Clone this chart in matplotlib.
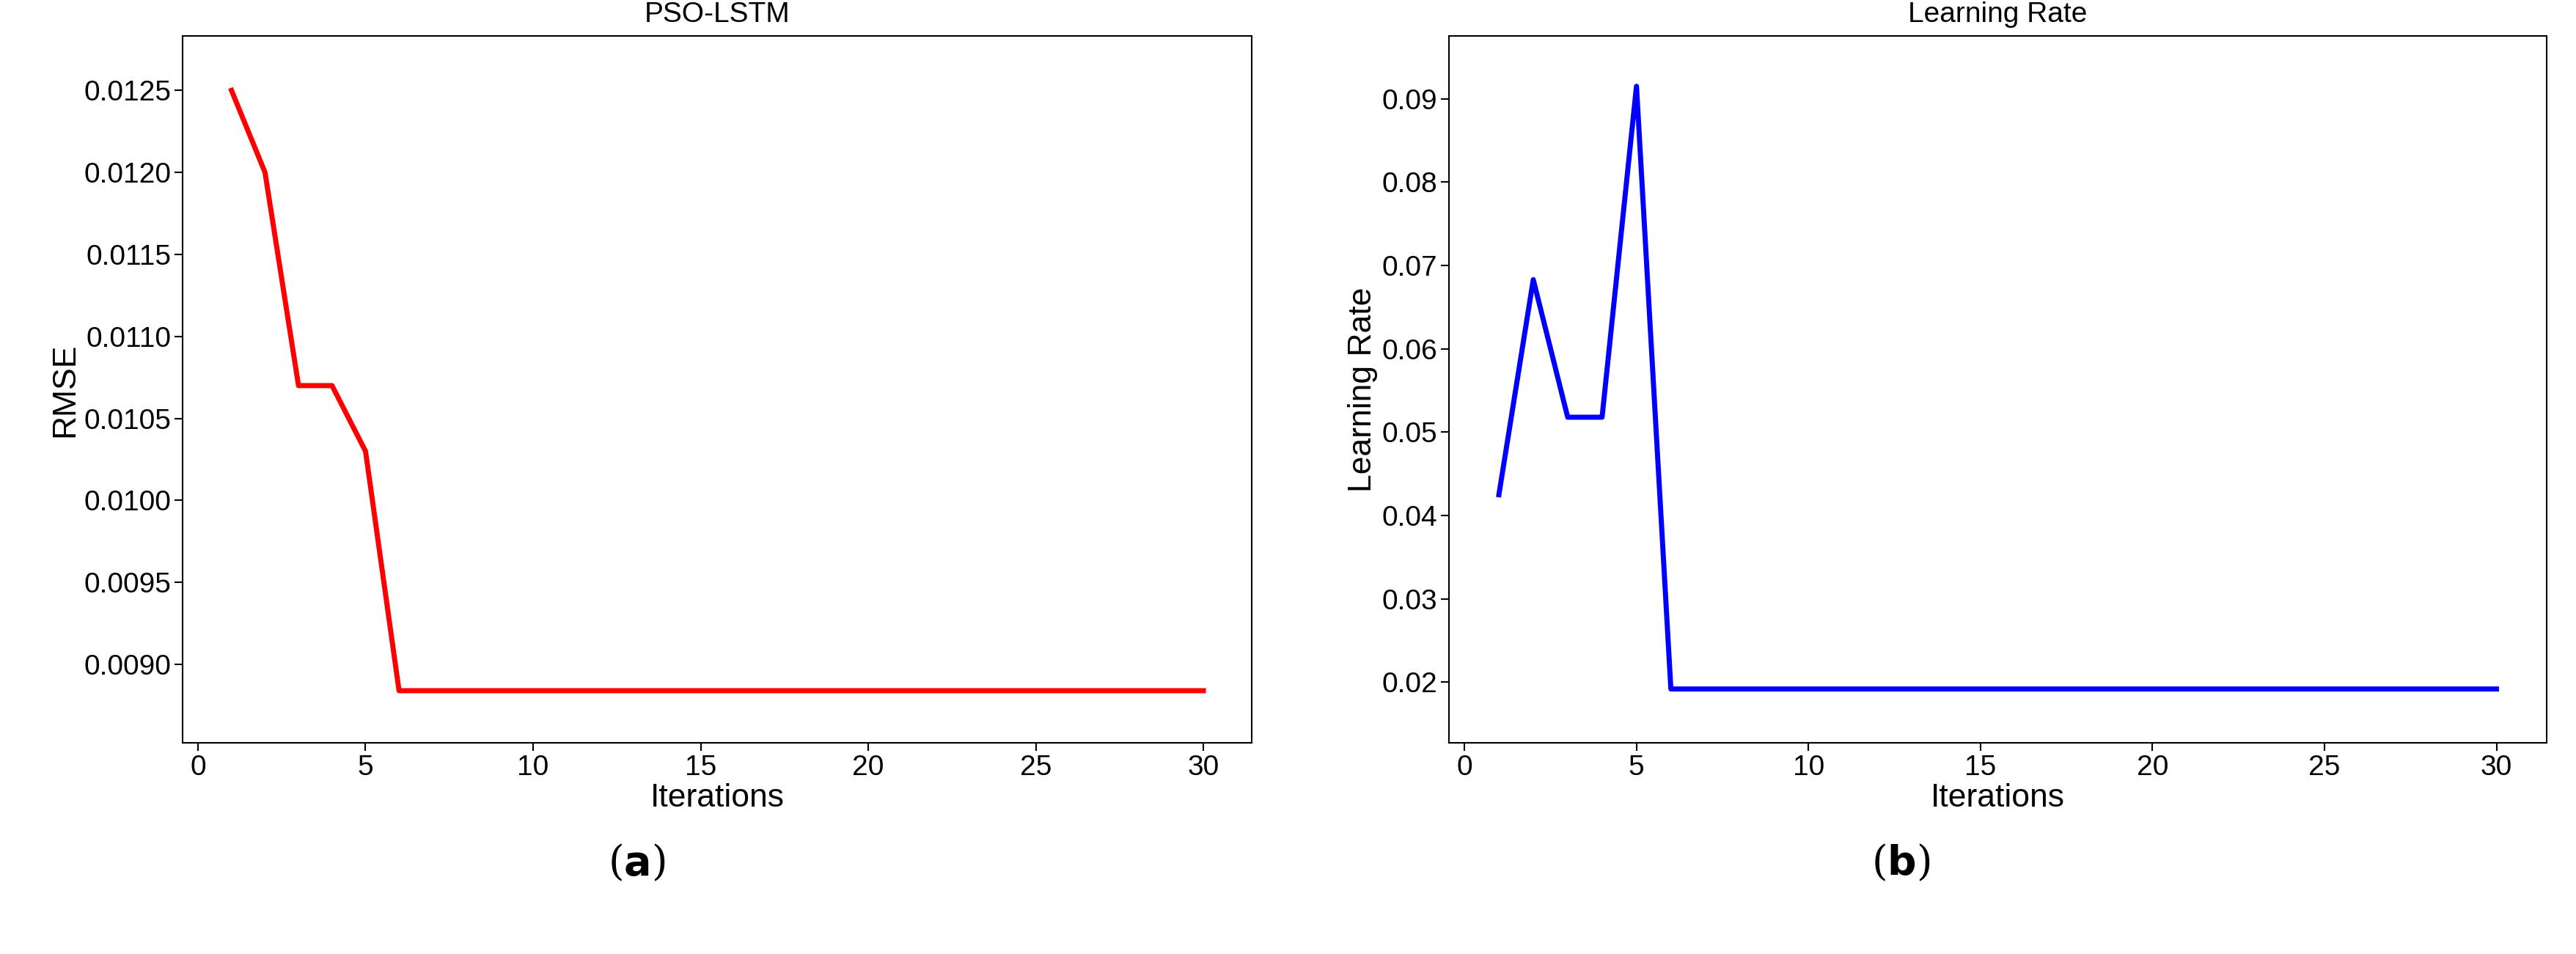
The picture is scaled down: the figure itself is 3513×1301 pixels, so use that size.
import numpy as np
import matplotlib
matplotlib.use('Agg')
import matplotlib.pyplot as plt

plt.rcParams['font.family'] = ['Liberation Sans', 'DejaVu Sans']

iterations = np.arange(1, 31)
rmse = [0.0125, 0.0120, 0.0107, 0.0107, 0.0103] + [0.00884] * 25
learning_rate = [0.0425, 0.0683, 0.0518, 0.0518, 0.0915] + [0.0192] * 25

fig = plt.figure(figsize=(35.13, 13.01), dpi=100)
ax1 = fig.add_axes([0.071, 0.221, 0.415, 0.741])
ax2 = fig.add_axes([0.5625, 0.221, 0.426, 0.741])

ax1.plot(iterations, rmse, color='red', lw=5)
ax1.set_title('PSO-LSTM', fontsize=28, pad=14)
ax1.set_ylabel('RMSE', fontsize=32)
ax1.set_yticks(np.arange(0.0090, 0.01251, 0.0005))
ax1.set_ylim(0.00852, 0.01283)
ax1.yaxis.set_major_formatter(matplotlib.ticker.FormatStrFormatter('%.4f'))

ax2.plot(iterations, learning_rate, color='blue', lw=5)
ax2.set_title('Learning Rate', fontsize=28, pad=14)
ax2.set_ylabel('Learning Rate', fontsize=32)
ax2.set_ylim(0.0127, 0.0975)
ax2.yaxis.set_major_formatter(matplotlib.ticker.FormatStrFormatter('%.2f'))

for ax in (ax1, ax2):
    ax.set_xlabel('Iterations', fontsize=32, labelpad=2)
    ax.set_xticks([0, 5, 10, 15, 20, 25, 30])
    ax.tick_params(labelsize=28, width=1.5, length=8)
    for s in ax.spines.values():
        s.set_linewidth(1.5)

fig.text(0.247, 0.095, r'($\mathbf{a}$)', fontsize=40, family='DejaVu Serif', ha='center', va='center')
fig.text(0.738, 0.095, r'($\mathbf{b}$)', fontsize=40, family='DejaVu Serif', ha='center', va='center')
fig.savefig('out.png', dpi=100)
